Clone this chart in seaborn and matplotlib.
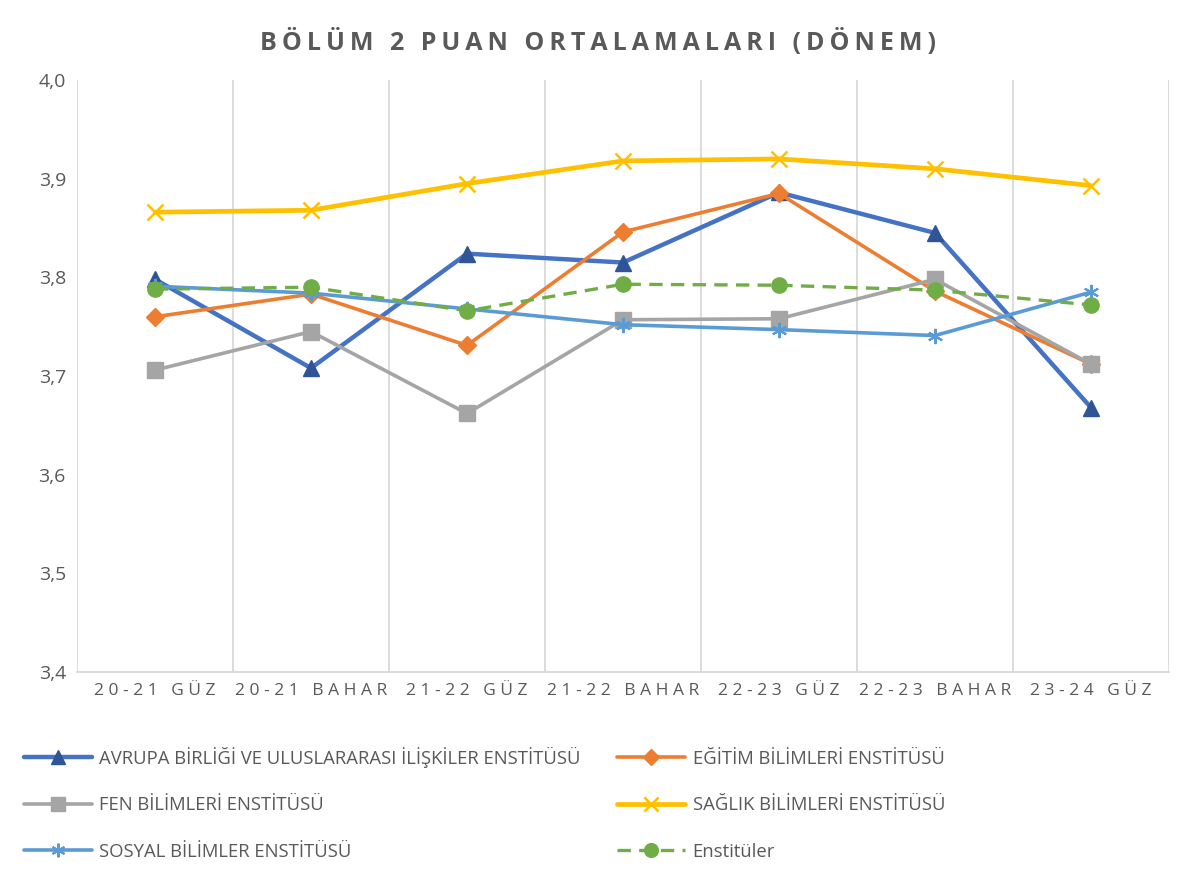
import matplotlib
matplotlib.use("Agg")
import matplotlib.pyplot as plt
import seaborn as sns
import pandas as pd

periods = ["20-21 GÜZ", "20-21 BAHAR", "21-22 GÜZ", "21-22 BAHAR", "22-23 GÜZ", "22-23 BAHAR", "23-24 GÜZ"]
avrupa = [3.798, 3.708, 3.824, 3.815, 3.886, 3.845, 3.668]
egitim = [3.760, 3.783, 3.731, 3.846, 3.885, 3.786, 3.712]
fen = [3.706, 3.745, 3.662, 3.757, 3.758, 3.798, 3.712]
saglik = [3.866, 3.868, 3.895, 3.918, 3.920, 3.910, 3.893]
sosyal = [3.791, 3.784, 3.768, 3.752, 3.747, 3.741, 3.785]
enstituler = [3.788, 3.790, 3.766, 3.793, 3.792, 3.787, 3.772]

series_names = ["AVRUPA BİRLİĞİ VE ULUSLARARASI İLİŞKİLER ENSTİTÜSÜ", "EĞİTİM BİLİMLERİ ENSTİTÜSÜ",
                "FEN BİLİMLERİ ENSTİTÜSÜ", "SAĞLIK BİLİMLERİ ENSTİTÜSÜ",
                "SOSYAL BİLİMLER ENSTİTÜSÜ", "Enstitüler"]
series_vals = [avrupa, egitim, fen, saglik, sosyal, enstituler]
title = "BÖLÜM 2 PUAN ORTALAMALARI (DÖNEM)"

sns.set_theme(style="white")
plt.rcParams['font.family'] = ['Open Sans', 'DejaVu Sans']

fig = plt.figure(figsize=(11.97, 8.72), dpi=100)
ax = fig.add_axes([77/1197, 1-672/872, (1169-77)/1197, (672-80)/872])

styles = [
    dict(color="#4472C4", marker="^", markersize=11, mfc="#2F5597", mec="#2F5597", lw=3.2, ls="-"),
    dict(color="#ED7D31", marker="D", markersize=9, mfc="#ED7D31", mec="#ED7D31", lw=2.6, ls="-"),
    dict(color="#A5A5A5", marker="s", markersize=11, mfc="#A5A5A5", mec="#A5A5A5", lw=2.6, ls="-"),
    dict(color="#FFC000", marker="x", markersize=11, mfc="#FFC000", mec="#FFC000", mew=1.8, lw=3.4, ls="-"),
    dict(color="#5B9BD5", marker=(6, 2, 0), markersize=11, mfc="#5B9BD5", mec="#5B9BD5", mew=1.5, lw=2.6, ls="-"),
    dict(color="#70AD47", marker="o", markersize=11, mfc="#70AD47", mec="#70AD47", lw=2.4, ls=(0, (4, 2.5))),
]

xs = list(range(len(periods)))
handles = []
for name, vals, st in zip(series_names, series_vals, styles):
    df = pd.DataFrame({"x": xs, "y": vals})
    sns.lineplot(data=df, x="x", y="y", ax=ax, color=st["color"], linewidth=st["lw"],
                 linestyle=st["ls"], marker=st["marker"], markersize=st["markersize"],
                 markerfacecolor=st["mfc"], markeredgecolor=st["mec"],
                 markeredgewidth=st.get("mew", 1), label=name, legend=False)
    h, = ax.plot([], [], color=st["color"], linewidth=st["lw"], linestyle=st["ls"],
                 marker=st["marker"], markersize=st["markersize"] * 0.9,
                 markerfacecolor=st["mfc"], markeredgecolor=st["mec"],
                 markeredgewidth=st.get("mew", 1))
    handles.append(h)

ax.set_xlim(-0.5, len(periods) - 0.5)
ax.set_ylim(3.4, 4.0)
yt = [3.4, 3.5, 3.6, 3.7, 3.8, 3.9, 4.0]
ax.set_yticks(yt)
ax.set_yticklabels([f"{v:.1f}".replace(".", ",") for v in yt], fontsize=14, color="#595959")
ax.set_xticks(xs)
ax.set_xticklabels([" ".join(p) for p in periods], fontsize=12.5, color="#595959")
ax.tick_params(axis="both", length=0, pad=8)
for b in [i - 0.5 for i in range(len(periods) + 1)]:
    ax.axvline(b, color="#D9D9D9", lw=1.3, zorder=0)
for s in ["top", "left", "right"]:
    ax.spines[s].set_visible(False)
ax.spines["bottom"].set_color("#D9D9D9")
ax.spines["bottom"].set_linewidth(1.3)
ax.set_xlabel("")
ax.set_ylabel("")

fig.text(0.5, 1 - 42/872, "\u2009".join(title), ha="center", va="center",
         fontsize=18, fontweight="bold", color="#595959")

order = [0, 2, 4, 1, 3, 5]
leg = fig.legend([handles[i] for i in order], [series_names[i] for i in order],
                 ncol=2, loc="upper left", bbox_to_anchor=(7/1197, 1 - 730/872),
                 frameon=False, fontsize=13.3, handlelength=3.7, columnspacing=1.95,
                 labelspacing=1.55, handletextpad=0.4)
for t in leg.get_texts():
    t.set_color("#595959")

fig.savefig("out.png", dpi=100)
